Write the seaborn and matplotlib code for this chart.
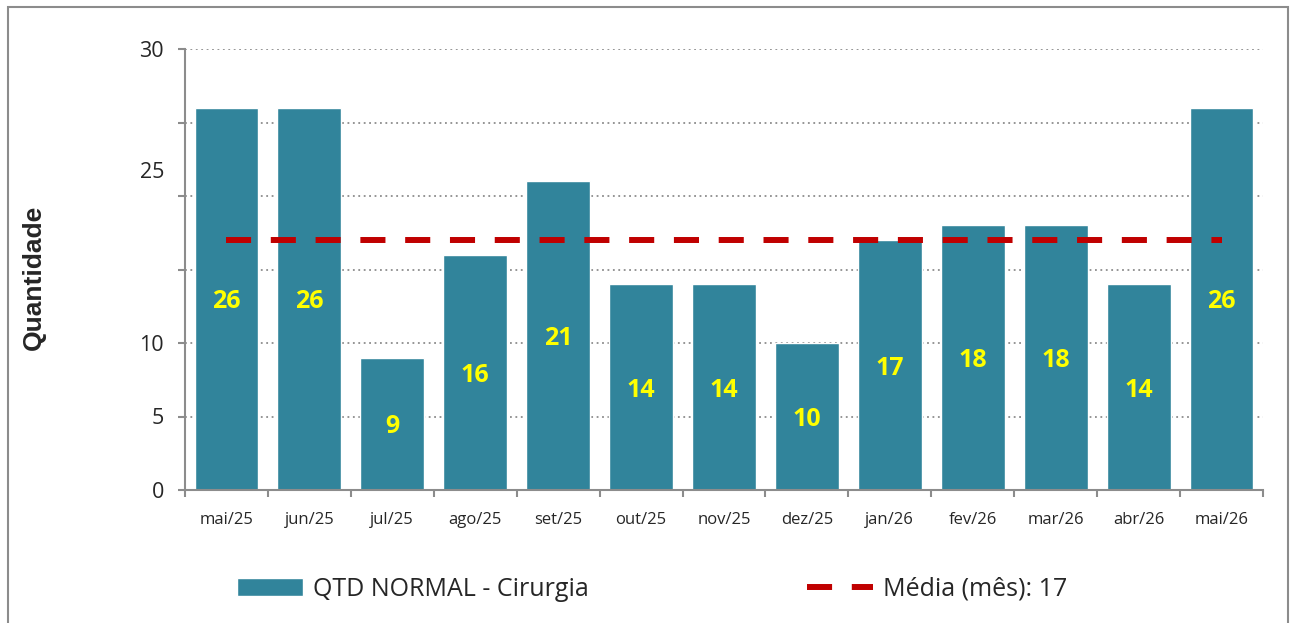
"""Monthly surgery count bar chart with the monthly average line."""

import matplotlib

matplotlib.use("Agg")

import matplotlib.pyplot as plt
import pandas as pd
import seaborn as sns
from matplotlib.lines import Line2D
from matplotlib.patches import Patch, Rectangle


MONTHS = ["mai/25", "jun/25", "jul/25", "ago/25", "set/25", "out/25", "nov/25",
          "dez/25", "jan/26", "fev/26", "mar/26", "abr/26", "mai/26"]
COUNTS = [26, 26, 9, 16, 21, 14, 14, 10, 17, 18, 18, 14, 26]
MEAN = 17
Y_TICKS = [0, 5, 10, 15, 20, 25, 30]
Y_TICK_LABELS = ["0", "5", "10", "", "", "", "30"]
# the "25" label sits off its gridline in the original chart
ODD_TICK_POS = [21.8]
ODD_TICK_LABELS = ["25"]

BAR_LABEL = "QTD NORMAL - Cirurgia"
MEAN_LABEL = f"Média (mês): {MEAN}"

BAR_COLOR = "#31849B"
MEAN_COLOR = "#C00000"
AXIS_GRAY = "#8C8C8C"

sns.set_style("white")
plt.rcParams["font.family"] = ["Open Sans", "DejaVu Sans"]

df = pd.DataFrame({"month": MONTHS, "count": COUNTS})

fig = plt.figure(figsize=(12.9, 6.23), dpi=100)
ax = fig.add_axes([185 / 1290, 1 - 490 / 623, 1078 / 1290, 441 / 623])

sns.barplot(data=df, x="month", y="count", color=BAR_COLOR, width=0.77,
            saturation=1, ax=ax, zorder=2)

positions = list(range(len(MONTHS)))
ax.plot(positions, [MEAN] * len(MONTHS), color=MEAN_COLOR, lw=4.3,
        dashes=(4.2, 3.3), zorder=3)

for pos, val in zip(positions, COUNTS):
    ax.text(pos, val / 2, str(val), ha="center", va="center_baseline", color="#FFFF00",
            fontsize=18, fontweight="bold", zorder=4)

ax.set_xlim(-0.5, len(MONTHS) - 0.5)
ax.set_ylim(0, 30)

# y axis
ax.set_yticks(Y_TICKS, labels=Y_TICK_LABELS)
ax.set_yticks(ODD_TICK_POS, labels=ODD_TICK_LABELS, minor=True)
ax.tick_params(axis="y", which="major", length=5, width=1.5, color=AXIS_GRAY,
               labelsize=15.5, pad=10, direction="out", left=True)
ax.tick_params(axis="y", which="minor", length=0, labelsize=15.5, pad=15, left=True)
ax.yaxis.grid(True, which="major", color=AXIS_GRAY, linestyle=(0, (1, 2)), lw=1.3, zorder=0)
ax.set_axisbelow(True)

# x axis: labels at bar centres, tick marks between bars
ax.set_xticks(positions, labels=MONTHS)
ax.set_xticks([p - 0.5 for p in positions] + [len(MONTHS) - 0.5], minor=True)
ax.tick_params(axis="x", which="major", length=0, labelsize=12, pad=15.5)
ax.tick_params(axis="x", which="minor", length=5, width=1.5, color=AXIS_GRAY,
               direction="out", bottom=True)
ax.set_xlabel("")

ax.set_ylabel("Quantidade", fontsize=19, fontweight="bold",
              family=["Liberation Sans", "DejaVu Sans"])
ax.yaxis.set_label_coords(-0.129, 0.483)

for side in ["top", "right"]:
    ax.spines[side].set_visible(False)
for side in ["left", "bottom"]:
    ax.spines[side].set_color(AXIS_GRAY)
    ax.spines[side].set_linewidth(1.5)

handles = [
    Patch(facecolor=BAR_COLOR, label=BAR_LABEL),
    Line2D([], [], color=MEAN_COLOR, lw=4.3, dashes=(4.2, 3.3), label=MEAN_LABEL),
]
fig.legend(handles=handles, loc="center left", bbox_to_anchor=(237 / 1290, 1 - 589 / 623),
           ncol=2, frameon=False, fontsize=18, handlelength=2.65, handletextpad=0.4,
           columnspacing=8.7, borderpad=0, borderaxespad=0)

# outer chart frame (bottom edge falls outside the image)
fig.add_artist(Rectangle((8 / 1290, -0.05), 1280 / 1290, 1.05 - 7 / 623,
                         transform=fig.transFigure, fill=False, edgecolor=AXIS_GRAY,
                         lw=1.5, clip_on=False))

fig.savefig("out.png", dpi=100)
plt.close(fig)
